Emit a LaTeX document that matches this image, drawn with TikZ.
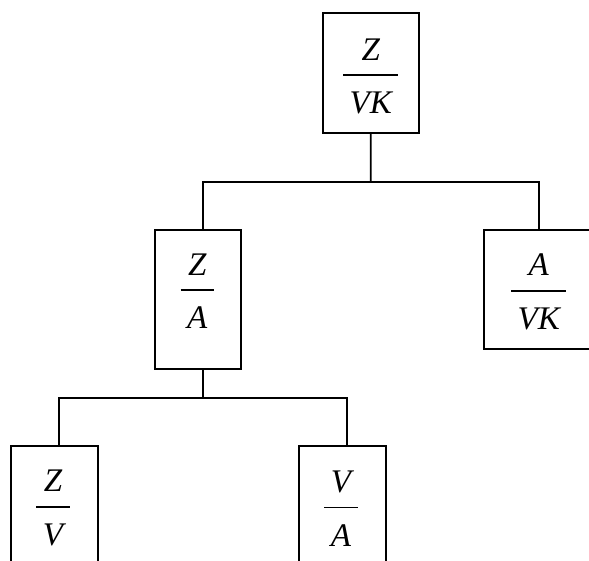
\documentclass[tikz,border=0pt]{standalone}
\usepackage{fontspec}
\setmainfont{Liberation Serif}
\usetikzlibrary{calc}
\setlength\arrayrulewidth{1.4pt}
\newcommand\myfr[2]{\begin{tabular}[t]{@{\hspace{6.5pt}}c@{\hspace{6.5pt}}}\itshape #1\\[3pt]\hline\rule{0pt}{38pt}\itshape #2\end{tabular}}
\begin{document}
\begin{tikzpicture}[x=1pt,y=-1pt,
  box/.style={draw,line width=1.8pt,rectangle,inner sep=0pt,outer sep=0pt},
  frac/.style={inner sep=0pt,outer sep=0pt,anchor=base,font=\fontsize{33}{38}\selectfont},
  conn/.style={line width=1.8pt}]
\useasboundingbox (0,0) rectangle (589,560);
\clip (0,0) rectangle (589,560);
% boxes
\node[box,minimum width=96.3pt,minimum height=120pt] (top) at (370.8,73.3) {};
\node[box,minimum width=86pt,minimum height=139pt] (za) at (198,299.5) {};
\node[box,minimum width=110pt,minimum height=119pt] (avk) at (539,289.5) {};
\node[box,minimum width=86.7pt,minimum height=139pt] (zv) at (54.3,515.2) {};
\node[box,minimum width=87pt,minimum height=139pt] (va) at (342.5,515.2) {};
% fractions
\node[frac] (topf) at (370.8,60) {\myfr{Z}{VK}};
\node[frac] (zaf) at (197.2,275) {\myfr{Z}{A}};
\node[frac] (avkf) at (538.7,275.7) {\myfr{A}{VK}};
\node[frac] (zvf) at (53,491.7) {\myfr{Z}{V}};
\node[frac] (vaf) at (341,492.3) {\myfr{V}{A}};
% connectors
\coordinate (j1) at (370.7,181.7);
\coordinate (j2) at (203.3,397.7);
\coordinate (zvt) at ([xshift=5pt]zv.north);
\coordinate (vat) at ([xshift=4.8pt]va.north);
\coordinate (zat) at ([xshift=5.3pt]za.north);
\draw[conn] (top.south) -- (j1);
\draw[conn] (zat) |- (j1 -| avk.north) -- (avk.north);
\draw[conn] (j2 |- za.south) -- (j2);
\draw[conn] (zvt) |- (j2 -| vat) -- (vat);
\end{tikzpicture}
\end{document}
